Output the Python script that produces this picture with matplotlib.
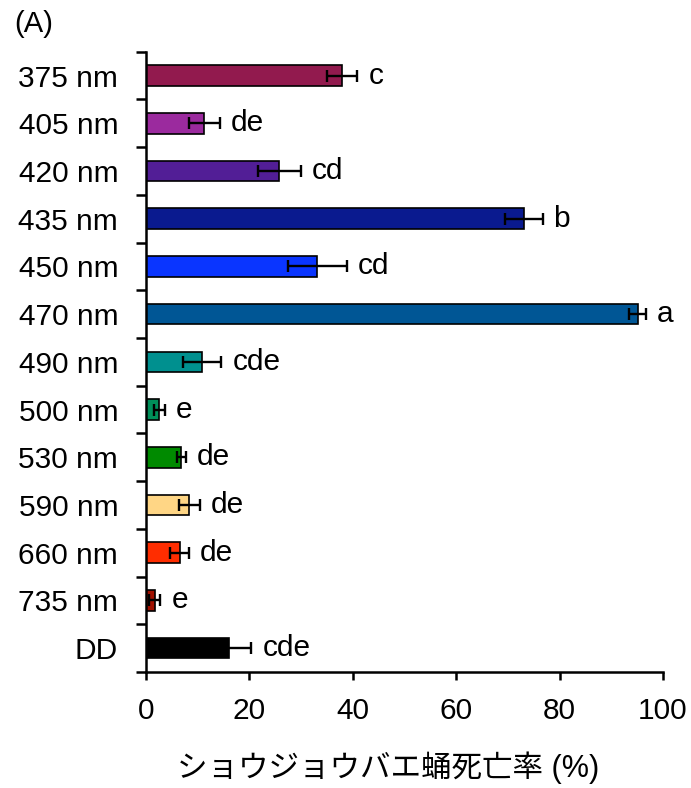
import numpy as np
import matplotlib.pyplot as plt

# data
wavelengths = ['375 nm', '405 nm', '420 nm', '435 nm', '450 nm', '470 nm',
               '490 nm', '500 nm', '530 nm', '590 nm', '660 nm', '735 nm', 'DD']
mortality = [38.0, 11.3, 25.8, 73.1, 33.1, 95.1, 10.9, 2.6, 6.8, 8.4, 6.5, 1.7, 16.0]
sd = [2.9, 3.0, 4.2, 3.6, 5.7, 1.6, 3.7, 1.0, 0.9, 2.1, 1.8, 1.1, 4.4]
letters = ['c', 'de', 'cd', 'b', 'cd', 'a', 'cde', 'e', 'de', 'de', 'de', 'e', 'cde']
bar_colors = ['#921A4E', '#9B2A9E', '#521E96', '#0A1A8F', '#0A35FF', '#005695',
              '#00908F', '#008F5A', '#008A00', '#FFD685', '#FF2D00', '#A01000', '#000000']

plt.rcParams['font.family'] = ['Liberation Sans', 'Noto Sans CJK JP']

fig = plt.figure(figsize=(6.91, 7.88), dpi=100)
ax = fig.add_axes([0.2113, 0.1472, 0.7482, 0.7872])

y = np.arange(len(wavelengths))
ax.barh(y, mortality, height=0.43, color=bar_colors, edgecolor='black', linewidth=1.2)
ax.errorbar(mortality, y, xerr=sd, fmt='none', ecolor='black', elinewidth=1.7,
            capsize=4, capthick=1.7)

for yi, m, s, lab in zip(y, mortality, sd, letters):
    ax.text(m + s + 2.1, yi, lab, va='center', ha='left', fontsize=21.5)

ax.set_xlim(0, 100)
ax.set_ylim(len(wavelengths) - 0.5, -0.5)
ax.set_xticks(np.arange(0, 101, 20))
ax.set_yticks(np.arange(-0.5, len(wavelengths), 1.0))
ax.set_yticklabels([])
ax.set_yticks(y, minor=True)
ax.set_yticklabels(wavelengths, minor=True)

for side in ['top', 'right']:
    ax.spines[side].set_visible(False)
for side in ['left', 'bottom']:
    ax.spines[side].set_linewidth(1.8)

ax.tick_params(axis='y', which='major', direction='out', length=7, width=1.8)
ax.tick_params(axis='y', which='minor', length=0, pad=20, labelsize=21.5)
ax.tick_params(axis='x', direction='out', length=6, width=1.8, pad=12, labelsize=21.5)

ax.set_xlabel('ショウジョウバエ蛹死亡率 (%)', fontsize=22)
ax.xaxis.set_label_coords(0.469, -0.128)
fig.text(0.02, 0.987, '(A)', fontsize=21, ha='left', va='top')

fig.savefig('out.png', dpi=100)
